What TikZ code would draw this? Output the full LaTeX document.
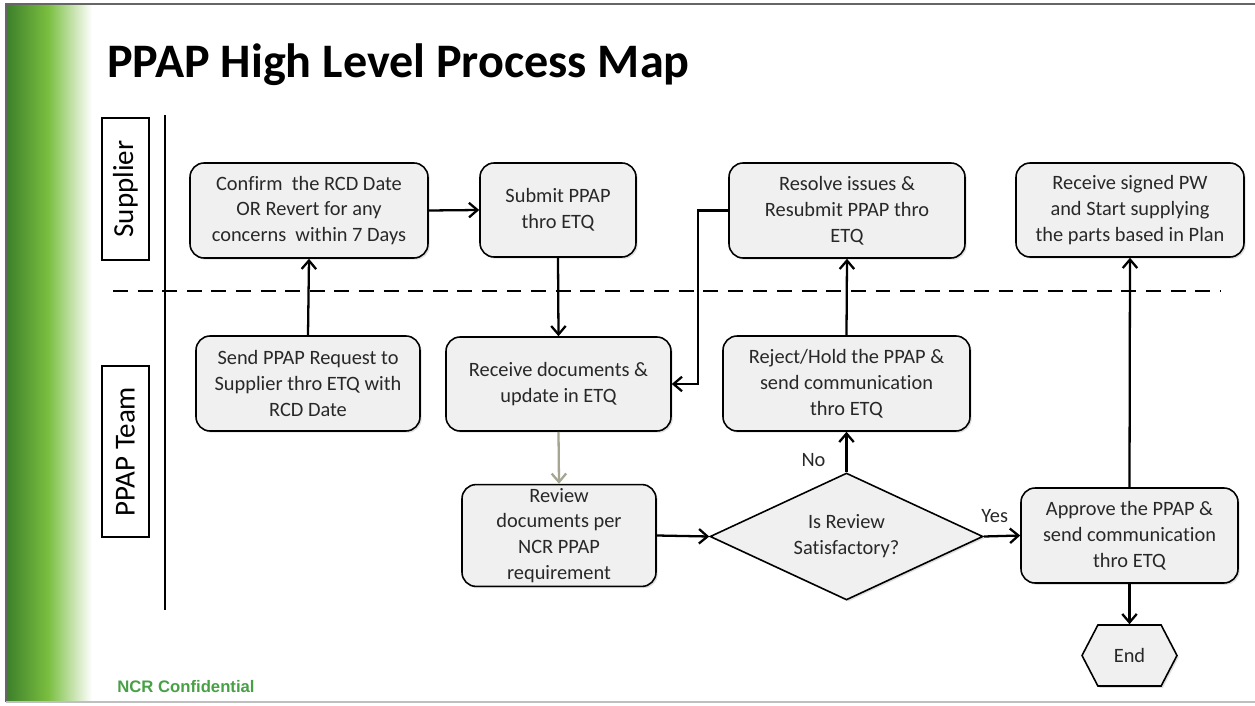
\documentclass[tikz,border=0pt]{standalone}
\usepackage{fontspec}
\setmainfont{Carlito}[Ligatures=CommonOff]
\newfontfamily\ncrfont{Liberation Sans}
\usetikzlibrary{arrows.meta,shapes.geometric,shapes.symbols,shadows}

\definecolor{boxfill}{RGB}{240,240,240}
\definecolor{darkleaf}{RGB}{62,128,44}
\definecolor{leaf}{RGB}{122,190,64}
\definecolor{ncrgreen}{RGB}{72,160,70}
\definecolor{arrgray}{RGB}{165,165,145}
\definecolor{inkgray}{RGB}{40,40,40}

\tikzset{
	procbox/.style={draw, rounded corners=8pt, fill=boxfill, line width=0.9pt, align=center,
		inner sep=2pt, text=inkgray, font=\fontsize{11.6}{14.7}\selectfont,
		drop shadow={opacity=0.25, shadow xshift=1pt, shadow yshift=-1pt}},
	lanebox/.style={draw, line width=0.6pt, rotate=90, minimum height=0.94cm,
		font=\fontsize{16.5}{18}\selectfont},
	arr/.style={line width=1.3pt, -{Straight Barb[length=1.7mm,width=2.9mm]}},
	lbl/.style={text=inkgray, font=\fontsize{11.6}{13}\selectfont}
}

\begin{document}
\begin{tikzpicture}[x=0.02cm,y=-0.02cm]
			\useasboundingbox (0,0) rectangle (1255,706);
			% frame and green bar
			\fill[white] (0,0) rectangle (1255,706);
			\shade[left color=darkleaf, right color=leaf] (7,4) rectangle (48,702);
			\shade[left color=leaf, right color=white] (48,4) rectangle (92,702);
			\draw[gray!80!black, line width=1.2pt] (6,702) -- (6,4) -- (1255,4);
			\draw[gray!50, line width=0.8pt] (6,702) -- (1255,702);

			% title and footer
			\node[anchor=base west, inner sep=0, font=\fontsize{27.4}{32}\selectfont\bfseries] (title) at (107,78) {PPAP High Level Process Map};
			\node[anchor=base west, inner sep=0, text=ncrgreen, font=\ncrfont\fontsize{9.5}{11}\selectfont\bfseries] (footer) at (117,692) {NCR Confidential};

			% lanes
			\node[lanebox, minimum width=2.84cm] (supplier) at (125.5,189) {Supplier};
			\node[lanebox, minimum width=3.42cm] (team) at (125.5,451.5) {PPAP Team};
			\coordinate (vtop) at (165,115);
			\coordinate (vbot) at (165,610);
			\draw[line width=1.2pt] (vtop) -- (vbot);
			\coordinate (dleft) at (113,291);
			\coordinate (dright) at (1220,291);
			\draw[line width=1.5pt, dash pattern=on 8.5pt off 5.5pt] (dleft) -- (dright);

			% supplier steps
			\node[procbox, minimum width=4.76cm, minimum height=1.9cm] (confirm) at (309,210.5) {Confirm\ \ the RCD Date\\OR Revert for any\\concerns\ \ within 7 Days};
			\node[procbox, minimum width=3.12cm, minimum height=1.88cm] (submit) at (558,210) {Submit PPAP\\thro ETQ};
			\node[procbox, minimum width=4.72cm, minimum height=1.9cm] (resolve) at (847,210.5) {Resolve issues \&\\Resubmit PPAP thro\\ETQ};
			\node[procbox, minimum width=4.56cm, minimum height=1.88cm] (signed) at (1130,210) {Receive signed PW\\and Start supplying\\the parts based in Plan};

			% team steps
			\node[procbox, minimum width=4.48cm, minimum height=1.9cm] (request) at (308,383.5) {Send PPAP Request to\\Supplier thro ETQ with\\RCD Date};
			\node[procbox, minimum width=4.5cm, minimum height=1.88cm] (recdocs) at (558.5,384) {Receive documents \&\\update in ETQ};
			\node[procbox, minimum width=4.94cm, minimum height=1.9cm] (reject) at (846.5,383.5) {Reject/Hold the PPAP \&\\send communication\\thro ETQ};
			\node[procbox, minimum width=3.88cm, minimum height=1.9cm] (review) at (559,535.5) {Review\\documents per\\NCR PPAP\\requirement};
			\node[procbox, shape=diamond, aspect=2.15, rounded corners=0pt, minimum width=5.46cm, minimum height=2.54cm, inner sep=0] (check) at (846.5,536.5) {Is Review\\Satisfactory?};
			\node[procbox, minimum width=4.34cm, minimum height=1.9cm] (approve) at (1129.5,535.5) {Approve the PPAP \&\\send communication\\thro ETQ};
			\node[procbox, shape=signal, rounded corners=0pt, signal to=east and west, signal pointer angle=125, minimum width=1.9cm, minimum height=1.22cm] (finish) at (1129.5,655.5) {End};

			% connectors
			\draw[arr] (request.north) -- (confirm.south);
			\draw[arr] (confirm.east) -- (submit.west);
			\draw[arr] (submit.south) -- (recdocs.north);
			\draw[arr] (resolve.west) -- ++(-30,0) |- (recdocs.east);
			\draw[arr, arrgray] (recdocs.south) -- (review.north);
			\draw[arr] (review.east) -- (check.west);
			\draw[arr] (check.north) -- (reject.south) node[lbl, pos=0.3, left=8pt] {No};
			\draw[arr] (reject.north) -- (resolve.south);
			\draw[arr] (check.east) -- (approve.west) node[lbl, pos=0.3, above=4pt] {Yes};
			\draw[arr] (approve.north) -- (signed.south);
			\draw[arr] (approve.south) -- (finish.north);
			\end{tikzpicture}
\end{document}
